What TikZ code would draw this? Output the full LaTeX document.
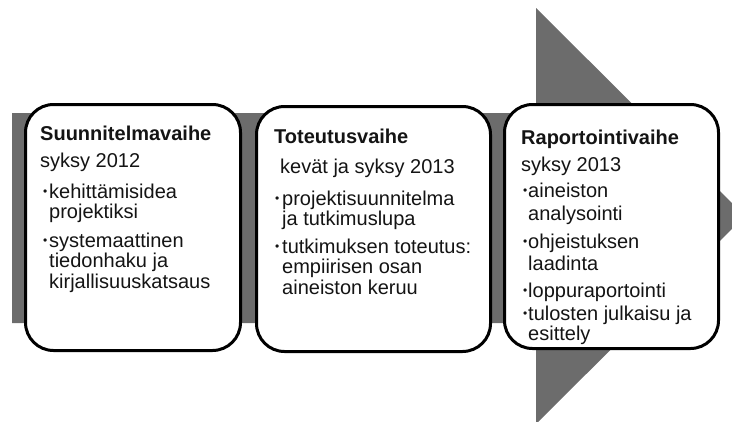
\documentclass[tikz,border=0pt]{standalone}
\usepackage{fontspec}
\setmainfont{Liberation Sans}[BoldFont={Liberation Sans Bold}]
\definecolor{arrowgray}{RGB}{108,108,108}
\definecolor{inktext}{RGB}{20,20,20}
\tikzset{
  phase/.style={draw=black, line width=3pt, fill=white, rounded corners=28pt, inner sep=0pt},
  txt/.style={anchor=base west, inner sep=0pt, text=inktext, font=\fontsize{20}{20}\selectfont},
  headtxt/.style={anchor=base west, inner sep=0pt, text=inktext, font=\fontsize{20}{20}\selectfont\bfseries},
  dot/.style={anchor=base west, inner sep=0pt, text=inktext, font=\fontsize{12}{12}\selectfont, yshift=3pt}
}
% one line of text inside a phase box
\newcommand\boxline[4]{\node[txt] (#1) at (#2,#3) {#4};}
\newcommand\boxdot[3]{\node[dot] (#1) at (#2,#3) {•};}
\begin{document}
\begin{tikzpicture}[x=1pt,y=-1pt]
  \useasboundingbox (0,0) rectangle (732,421);
  % broad process arrow behind the phases
  \begin{scope}
    \clip (0,0) rectangle (732,421);
    \fill[arrowgray] (12,113) -- (536,113) -- (536,8) -- (745,216)
      -- (536,424) -- (536,323) -- (12,323) -- cycle;
  \end{scope}

  % phase boxes
  \node[phase, minimum width=215pt, minimum height=246pt] (p1) at (133,227.5) {};
  \node[phase, minimum width=234pt, minimum height=245pt] (p2) at (373.5,229) {};
  \node[phase, minimum width=214pt, minimum height=244pt] (p3) at (611.5,226.5) {};

  % planning phase
  \node[headtxt] (h1) at (40,140) {Suunnitelmavaihe};
  \boxline{d1}{40}{167}{syksy 2012}
  \boxdot{b1a}{43}{198}
  \boxline{l1a}{49}{198}{kehittämisidea}
  \boxline{l1b}{49}{218}{projektiksi}
  \boxdot{b1c}{43}{247}
  \boxline{l1c}{49}{247}{systemaattinen}
  \boxline{l1d}{49}{267}{tiedonhaku ja}
  \boxline{l1e}{49}{288}{kirjallisuuskatsaus}

  % implementation phase
  \node[headtxt] (h2) at (274,143) {Toteutusvaihe};
  \boxline{d2}{280}{173}{kevät ja syksy 2013}
  \boxdot{b2a}{275}{205}
  \boxline{l2a}{282}{205}{projektisuunnitelma}
  \boxline{l2b}{282}{225}{ja tutkimuslupa}
  \boxdot{b2c}{275}{253}
  \boxline{l2c}{282}{253}{tutkimuksen toteutus:}
  \boxline{l2d}{282}{273}{empiirisen osan}
  \boxline{l2e}{282}{294}{aineiston keruu}

  % reporting phase
  \node[headtxt] (h3) at (521,144) {Raportointivaihe};
  \boxline{d3}{521}{171}{syksy 2013}
  \boxdot{b3a}{523}{197}
  \boxline{l3a}{528}{197}{aineiston}
  \boxline{l3b}{528}{220}{analysointi}
  \boxdot{b3c}{523}{248}
  \boxline{l3c}{528}{248}{ohjeistuksen}
  \boxline{l3d}{528}{270}{laadinta}
  \boxdot{b3e}{523}{297}
  \boxline{l3e}{528}{297}{loppuraportointi}
  \boxdot{b3f}{523}{320}
  \boxline{l3f}{528}{320}{tulosten julkaisu ja}
  \boxline{l3g}{528}{340}{esittely}
\end{tikzpicture}
\end{document}
